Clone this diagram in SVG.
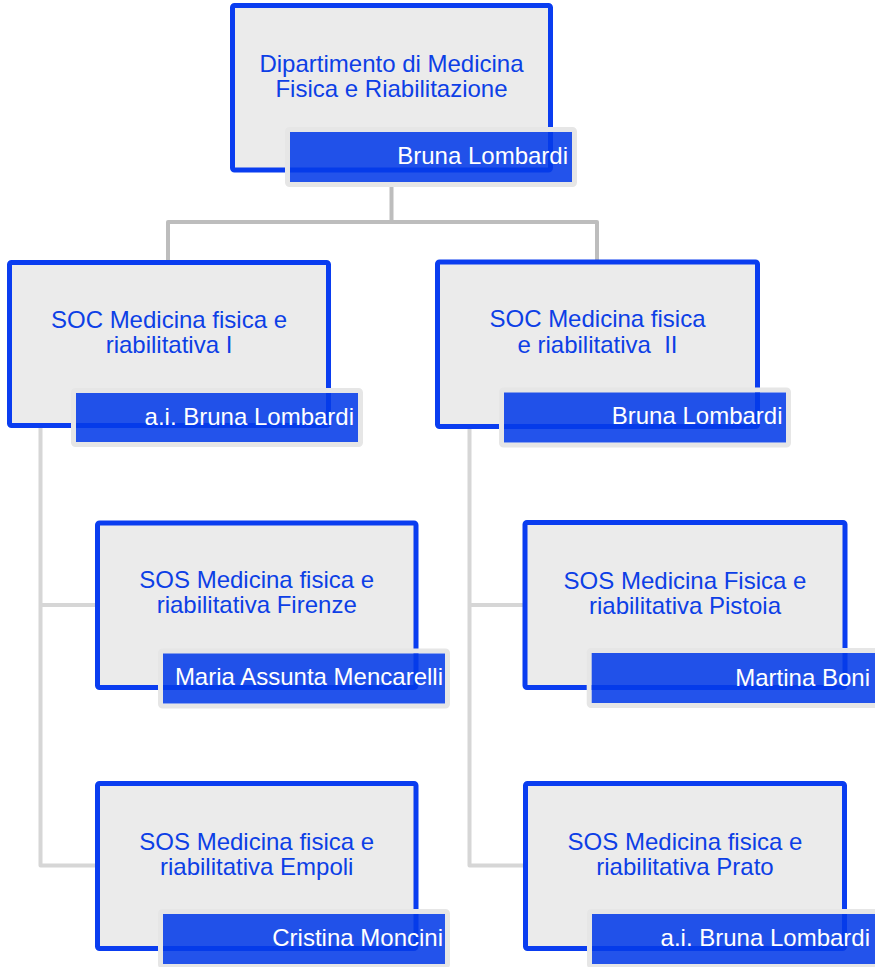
<svg xmlns="http://www.w3.org/2000/svg" width="875" height="967" viewBox="0 0 875 967">
<style>
.box{fill:#ebebeb;stroke:#0a3df0;stroke-width:5}
.frame{fill:none;stroke:#e6e6e6;stroke-width:5}
.tag{fill:#053be8;fill-opacity:0.88}
.title{font-family:"Liberation Sans",Arial,sans-serif;font-size:24px;fill:#0d3fe6;text-anchor:middle}
.name{font-family:"Liberation Sans",Arial,sans-serif;font-size:24px;fill:#ffffff;text-anchor:end}
.c1{fill:none;stroke:#bdbdbd;stroke-width:4;stroke-linejoin:round;stroke-linecap:round}
.c2{fill:none;stroke:#d6d6d6;stroke-width:4;stroke-linejoin:round}
</style>
<rect width="875" height="967" fill="#ffffff"/>
<g id="connectors">
<path class="c1" d="M391.5 187 V222 M168 261 V222 H597 V261"/>
<path class="c2" d="M40.5 428 V865.5 H96 M40.5 605 H96"/>
<path class="c2" d="M469.5 429 V865.5 H524 M469.5 605 H524"/>
</g>
<g id="node-dipartimento">
<rect class="box" x="232.5" y="5.5" width="318" height="164.5" rx="2"/>
<rect class="frame" x="287.5" y="129.5" width="287" height="55" rx="2"/>
<rect class="tag" x="290" y="132" width="282" height="50"/>
<text class="title" x="391.5" y="72">Dipartimento di Medicina</text>
<text class="title" x="391.5" y="96.5">Fisica e Riabilitazione</text>
<text class="name" x="568" y="164">Bruna Lombardi</text>
</g>
<g id="node-soc1">
<rect class="box" x="9.5" y="262.5" width="319" height="163" rx="2"/>
<rect class="frame" x="73.5" y="390.5" width="287" height="54" rx="2"/>
<rect class="tag" x="76" y="393" width="282" height="49"/>
<text class="title" x="169" y="328">SOC Medicina fisica e</text>
<text class="title" x="169" y="353">riabilitativa I</text>
<text class="name" x="354" y="425">a.i. Bruna Lombardi</text>
</g>
<g id="node-soc2">
<rect class="box" x="437.5" y="262" width="320" height="164.5" rx="2"/>
<rect class="frame" x="501.5" y="390" width="287" height="55" rx="2"/>
<rect class="tag" x="504" y="392.5" width="282" height="50"/>
<text class="title" x="597.5" y="327">SOC Medicina fisica</text>
<text class="title" x="597.5" y="352.5" xml:space="preserve">e riabilitativa  II</text>
<text class="name" x="782.5" y="424">Bruna Lombardi</text>
</g>
<g id="node-sos-firenze">
<rect class="box" x="97.5" y="523" width="318.5" height="164.5" rx="2"/>
<rect class="frame" x="160.5" y="651" width="287" height="55" rx="2"/>
<rect class="tag" x="163" y="653.5" width="282" height="50"/>
<text class="title" x="256.7" y="588">SOS Medicina fisica e</text>
<text class="title" x="256.7" y="613">riabilitativa Firenze</text>
<text class="name" x="443" y="685">Maria Assunta Mencarelli</text>
</g>
<g id="node-sos-empoli">
<rect class="box" x="97.5" y="783.5" width="318.5" height="165" rx="2"/>
<rect class="frame" x="160.5" y="911.5" width="287" height="55" rx="2"/>
<rect class="tag" x="163" y="914" width="282" height="50"/>
<text class="title" x="256.7" y="850">SOS Medicina fisica e</text>
<text class="title" x="256.7" y="875">riabilitativa Empoli</text>
<text class="name" x="443" y="946">Cristina Moncini</text>
</g>
<g id="node-sos-pistoia">
<rect class="box" x="525" y="522.5" width="320" height="165" rx="2"/>
<rect class="frame" x="589.2" y="650.5" width="290" height="55" rx="2"/>
<rect class="tag" x="591.7" y="653" width="285" height="50"/>
<text class="title" x="685" y="589">SOS Medicina Fisica e</text>
<text class="title" x="685" y="613.5">riabilitativa Pistoia</text>
<text class="name" x="870" y="685.5">Martina Boni</text>
</g>
<g id="node-sos-prato">
<rect class="box" x="525.5" y="783.5" width="319" height="165" rx="2"/>
<rect class="frame" x="589.5" y="911.5" width="290" height="55" rx="2"/>
<rect class="tag" x="592" y="914" width="285" height="50"/>
<text class="title" x="685" y="850">SOS Medicina fisica e</text>
<text class="title" x="685" y="875">riabilitativa Prato</text>
<text class="name" x="870" y="946">a.i. Bruna Lombardi</text>
</g>
</svg>
